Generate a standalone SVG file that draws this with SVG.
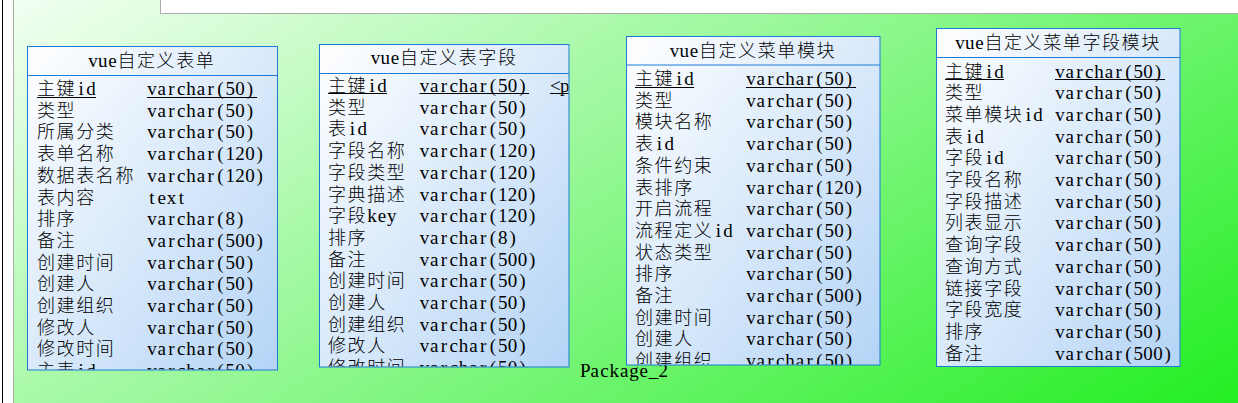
<svg xmlns="http://www.w3.org/2000/svg" width="1238" height="403" viewBox="0 0 1238 403">
<style>
.t{font-family:"Liberation Serif","Times New Roman",serif;font-size:19px;fill:#000}
.c{font-family:"Noto Sans CJK SC","Noto Sans CJK JP",sans-serif;font-size:18px;letter-spacing:1.6px;font-weight:300;fill:#000}
.tb{fill:url(#tg);stroke:#1c7cd5;stroke-width:1}
.hl{stroke:#1c7cd5;stroke-width:1}
.ul{stroke:#000;stroke-width:1}
</style>
<defs>
<linearGradient id="pg" gradientUnits="userSpaceOnUse" x1="14" y1="13" x2="520" y2="842">
<stop offset="0" stop-color="#f0fff0"/>
<stop offset="1" stop-color="#22ee22"/>
</linearGradient>
<linearGradient id="tg" x1="0" y1="0" x2="1" y2="1">
<stop offset="0" stop-color="#ffffff"/>
<stop offset="1" stop-color="#b4d4f6"/>
</linearGradient>
<clipPath id="c1"><rect x="28" y="76" width="249" height="293.5"/></clipPath>
<clipPath id="c2"><rect x="320" y="74" width="248.5" height="292.5"/></clipPath>
<clipPath id="c3"><rect x="627" y="66" width="253" height="298.5"/></clipPath>
<clipPath id="c4"><rect x="937" y="58" width="243" height="308"/></clipPath>
</defs>
<rect x="0" y="0" width="1238" height="403" fill="#ffffff"/>
<g id="package_2">
<line x1="2.5" y1="0" x2="2.5" y2="403" stroke="#000" stroke-width="1"/>
<path d="M13.5,-2 L160.5,-2 L160.5,13.5 L1240,13.5 L1240,405 L13.5,405 Z" fill="url(#pg)" stroke="#aaaaaa" stroke-width="1"/>
<text class="t" transform="translate(580,376.5)" x="0 10.5 20.3 29.55 39.9 49.15 59.5 68.75 78.55" y="0">Package_2</text>
</g>

<g id="vue_form">
<rect class="tb" x="27.5" y="46.5" width="250" height="323.5"/>
<line class="hl" x1="27.5" y1="75.5" x2="277.5" y2="75.5"/>
<text class="t" transform="translate(88,66.5)"><tspan x="0.15 9.95 20.3" y="0">vue</tspan><tspan class="c" x="29.4">自定义表单</tspan></text>
<g clip-path="url(#c1)">
<text class="t" transform="translate(37,95)"><tspan class="c" x="0" y="0">主键</tspan><tspan x="41.45 49.15">id</tspan></text>
<text class="t" transform="translate(147,95)" x="0.15 10.5 21.35 30.1 39.35 49.7 60.55 70.35 78.55 88.35 99.75" y="0">varchar(50)</text>
<line class="ul" x1="37" y1="97.5" x2="96" y2="97.5"/><line class="ul" x1="147" y1="97.5" x2="257" y2="97.5"/>
<text class="c" x="37" y="116.7">类型</text><text class="t" transform="translate(147,116.7)" x="0.15 10.5 21.35 30.1 39.35 49.7 60.55 70.35 78.55 88.35 99.75" y="0">varchar(50)</text>
<text class="c" x="37" y="138.4">所属分类</text><text class="t" transform="translate(147,138.4)" x="0.15 10.5 21.35 30.1 39.35 49.7 60.55 70.35 78.55 88.35 99.75" y="0">varchar(50)</text>
<text class="c" x="37" y="160.1">表单名称</text><text class="t" transform="translate(147,160.1)" x="0.15 10.5 21.35 30.1 39.35 49.7 60.55 70.35 78.55 88.35 98.15 109.55" y="0">varchar(120)</text>
<text class="c" x="37" y="181.8">数据表名称</text><text class="t" transform="translate(147,181.8)" x="0.15 10.5 21.35 30.1 39.35 49.7 60.55 70.35 78.55 88.35 98.15 109.55" y="0">varchar(120)</text>
<text class="c" x="37" y="203.5">表内容</text><text class="t" transform="translate(147,203.5)" x="2.25 10.5 19.75 31.65" y="0">text</text>
<text class="c" x="37" y="225.2">排序</text><text class="t" transform="translate(147,225.2)" x="0.15 10.5 21.35 30.1 39.35 49.7 60.55 70.35 78.55 89.95" y="0">varchar(8)</text>
<text class="c" x="37" y="246.9">备注</text><text class="t" transform="translate(147,246.9)" x="0.15 10.5 21.35 30.1 39.35 49.7 60.55 70.35 78.55 88.35 98.15 109.55" y="0">varchar(500)</text>
<text class="c" x="37" y="268.6">创建时间</text><text class="t" transform="translate(147,268.6)" x="0.15 10.5 21.35 30.1 39.35 49.7 60.55 70.35 78.55 88.35 99.75" y="0">varchar(50)</text>
<text class="c" x="37" y="290.3">创建人</text><text class="t" transform="translate(147,290.3)" x="0.15 10.5 21.35 30.1 39.35 49.7 60.55 70.35 78.55 88.35 99.75" y="0">varchar(50)</text>
<text class="c" x="37" y="312">创建组织</text><text class="t" transform="translate(147,312)" x="0.15 10.5 21.35 30.1 39.35 49.7 60.55 70.35 78.55 88.35 99.75" y="0">varchar(50)</text>
<text class="c" x="37" y="333.7">修改人</text><text class="t" transform="translate(147,333.7)" x="0.15 10.5 21.35 30.1 39.35 49.7 60.55 70.35 78.55 88.35 99.75" y="0">varchar(50)</text>
<text class="c" x="37" y="355.4">修改时间</text><text class="t" transform="translate(147,355.4)" x="0.15 10.5 21.35 30.1 39.35 49.7 60.55 70.35 78.55 88.35 99.75" y="0">varchar(50)</text>
<text class="t" transform="translate(37,377.1)"><tspan class="c" x="0" y="0">主表</tspan><tspan x="41.45 49.15">id</tspan></text>
<text class="t" transform="translate(147,377.1)" x="0.15 10.5 21.35 30.1 39.35 49.7 60.55 70.35 78.55 88.35 99.75" y="0">varchar(50)</text>
</g>
</g>

<g id="vue_table_field">
<rect class="tb" x="319.5" y="44.5" width="249.5" height="322.5"/>
<line class="hl" x1="319.5" y1="73.5" x2="569" y2="73.5"/>
<text class="t" transform="translate(370.5,63.5)"><tspan x="0.15 9.95 20.3" y="0">vue</tspan><tspan class="c" x="29.4">自定义表字段</tspan></text>
<g clip-path="url(#c2)">
<text class="t" transform="translate(328,92)"><tspan class="c" x="0" y="0">主键</tspan><tspan x="41.45 49.15">id</tspan></text>
<text class="t" transform="translate(419.5,92)" x="0.15 10.5 21.35 30.1 39.35 49.7 60.55 70.35 78.55 88.35 99.75" y="0">varchar(50)</text>
<text class="t" transform="translate(550,92)" x="0 9.95 19.75 29.4" y="0">&lt;pk&gt;</text>
<line class="ul" x1="328" y1="93.5" x2="387" y2="93.5"/><line class="ul" x1="419.5" y1="93.5" x2="529" y2="93.5"/><line class="ul" x1="550" y1="93.5" x2="590" y2="93.5"/>
<text class="c" x="328" y="113.7">类型</text><text class="t" transform="translate(419.5,113.7)" x="0.15 10.5 21.35 30.1 39.35 49.7 60.55 70.35 78.55 88.35 99.75" y="0">varchar(50)</text>
<text class="t" transform="translate(328,135.4)"><tspan class="c" x="0" y="0">表</tspan><tspan x="21.85 29.55">id</tspan></text>
<text class="t" transform="translate(419.5,135.4)" x="0.15 10.5 21.35 30.1 39.35 49.7 60.55 70.35 78.55 88.35 99.75" y="0">varchar(50)</text>
<text class="c" x="328" y="157.1">字段名称</text><text class="t" transform="translate(419.5,157.1)" x="0.15 10.5 21.35 30.1 39.35 49.7 60.55 70.35 78.55 88.35 98.15 109.55" y="0">varchar(120)</text>
<text class="c" x="328" y="178.8">字段类型</text><text class="t" transform="translate(419.5,178.8)" x="0.15 10.5 21.35 30.1 39.35 49.7 60.55 70.35 78.55 88.35 98.15 109.55" y="0">varchar(120)</text>
<text class="c" x="328" y="200.5">字典描述</text><text class="t" transform="translate(419.5,200.5)" x="0.15 10.5 21.35 30.1 39.35 49.7 60.55 70.35 78.55 88.35 98.15 109.55" y="0">varchar(120)</text>
<text class="t" transform="translate(328,222.2)"><tspan class="c" x="0" y="0">字段</tspan><tspan x="39.35 49.7 58.95">key</tspan></text>
<text class="t" transform="translate(419.5,222.2)" x="0.15 10.5 21.35 30.1 39.35 49.7 60.55 70.35 78.55 88.35 98.15 109.55" y="0">varchar(120)</text>
<text class="c" x="328" y="243.9">排序</text><text class="t" transform="translate(419.5,243.9)" x="0.15 10.5 21.35 30.1 39.35 49.7 60.55 70.35 78.55 89.95" y="0">varchar(8)</text>
<text class="c" x="328" y="265.6">备注</text><text class="t" transform="translate(419.5,265.6)" x="0.15 10.5 21.35 30.1 39.35 49.7 60.55 70.35 78.55 88.35 98.15 109.55" y="0">varchar(500)</text>
<text class="c" x="328" y="287.3">创建时间</text><text class="t" transform="translate(419.5,287.3)" x="0.15 10.5 21.35 30.1 39.35 49.7 60.55 70.35 78.55 88.35 99.75" y="0">varchar(50)</text>
<text class="c" x="328" y="309">创建人</text><text class="t" transform="translate(419.5,309)" x="0.15 10.5 21.35 30.1 39.35 49.7 60.55 70.35 78.55 88.35 99.75" y="0">varchar(50)</text>
<text class="c" x="328" y="330.7">创建组织</text><text class="t" transform="translate(419.5,330.7)" x="0.15 10.5 21.35 30.1 39.35 49.7 60.55 70.35 78.55 88.35 99.75" y="0">varchar(50)</text>
<text class="c" x="328" y="352.4">修改人</text><text class="t" transform="translate(419.5,352.4)" x="0.15 10.5 21.35 30.1 39.35 49.7 60.55 70.35 78.55 88.35 99.75" y="0">varchar(50)</text>
<text class="c" x="328" y="374.1">修改时间</text><text class="t" transform="translate(419.5,374.1)" x="0.15 10.5 21.35 30.1 39.35 49.7 60.55 70.35 78.55 88.35 99.75" y="0">varchar(50)</text>
</g>
</g>

<g id="vue_menu_module">
<rect class="tb" x="626.5" y="36.5" width="253.5" height="328.5"/>
<line class="hl" x1="626.5" y1="65" x2="880" y2="65"/>
<text class="t" transform="translate(669.5,56.5)"><tspan x="0.15 9.95 20.3" y="0">vue</tspan><tspan class="c" x="29.4">自定义菜单模块</tspan></text>
<g clip-path="url(#c3)">
<text class="t" transform="translate(635,85)"><tspan class="c" x="0" y="0">主键</tspan><tspan x="41.45 49.15">id</tspan></text>
<text class="t" transform="translate(746,85)" x="0.15 10.5 21.35 30.1 39.35 49.7 60.55 70.35 78.55 88.35 99.75" y="0">varchar(50)</text>
<line class="ul" x1="635" y1="87.5" x2="694" y2="87.5"/><line class="ul" x1="746" y1="87.5" x2="856" y2="87.5"/>
<text class="c" x="635" y="106.7">类型</text><text class="t" transform="translate(746,106.7)" x="0.15 10.5 21.35 30.1 39.35 49.7 60.55 70.35 78.55 88.35 99.75" y="0">varchar(50)</text>
<text class="c" x="635" y="128.4">模块名称</text><text class="t" transform="translate(746,128.4)" x="0.15 10.5 21.35 30.1 39.35 49.7 60.55 70.35 78.55 88.35 99.75" y="0">varchar(50)</text>
<text class="t" transform="translate(635,150.1)"><tspan class="c" x="0" y="0">表</tspan><tspan x="21.85 29.55">id</tspan></text>
<text class="t" transform="translate(746,150.1)" x="0.15 10.5 21.35 30.1 39.35 49.7 60.55 70.35 78.55 88.35 99.75" y="0">varchar(50)</text>
<text class="c" x="635" y="171.8">条件约束</text><text class="t" transform="translate(746,171.8)" x="0.15 10.5 21.35 30.1 39.35 49.7 60.55 70.35 78.55 88.35 99.75" y="0">varchar(50)</text>
<text class="c" x="635" y="193.5">表排序</text><text class="t" transform="translate(746,193.5)" x="0.15 10.5 21.35 30.1 39.35 49.7 60.55 70.35 78.55 88.35 98.15 109.55" y="0">varchar(120)</text>
<text class="c" x="635" y="215.2">开启流程</text><text class="t" transform="translate(746,215.2)" x="0.15 10.5 21.35 30.1 39.35 49.7 60.55 70.35 78.55 88.35 99.75" y="0">varchar(50)</text>
<text class="t" transform="translate(635,236.9)"><tspan class="c" x="0" y="0">流程定义</tspan><tspan x="80.65 88.35">id</tspan></text>
<text class="t" transform="translate(746,236.9)" x="0.15 10.5 21.35 30.1 39.35 49.7 60.55 70.35 78.55 88.35 99.75" y="0">varchar(50)</text>
<text class="c" x="635" y="258.6">状态类型</text><text class="t" transform="translate(746,258.6)" x="0.15 10.5 21.35 30.1 39.35 49.7 60.55 70.35 78.55 88.35 99.75" y="0">varchar(50)</text>
<text class="c" x="635" y="280.3">排序</text><text class="t" transform="translate(746,280.3)" x="0.15 10.5 21.35 30.1 39.35 49.7 60.55 70.35 78.55 88.35 99.75" y="0">varchar(50)</text>
<text class="c" x="635" y="302">备注</text><text class="t" transform="translate(746,302)" x="0.15 10.5 21.35 30.1 39.35 49.7 60.55 70.35 78.55 88.35 98.15 109.55" y="0">varchar(500)</text>
<text class="c" x="635" y="323.7">创建时间</text><text class="t" transform="translate(746,323.7)" x="0.15 10.5 21.35 30.1 39.35 49.7 60.55 70.35 78.55 88.35 99.75" y="0">varchar(50)</text>
<text class="c" x="635" y="345.4">创建人</text><text class="t" transform="translate(746,345.4)" x="0.15 10.5 21.35 30.1 39.35 49.7 60.55 70.35 78.55 88.35 99.75" y="0">varchar(50)</text>
<text class="c" x="635" y="367.1">创建组织</text><text class="t" transform="translate(746,367.1)" x="0.15 10.5 21.35 30.1 39.35 49.7 60.55 70.35 78.55 88.35 99.75" y="0">varchar(50)</text>
</g>
</g>

<g id="vue_menu_field_module">
<rect class="tb" x="936.5" y="28.5" width="243.5" height="338"/>
<line class="hl" x1="936.5" y1="57.5" x2="1180" y2="57.5"/>
<text class="t" transform="translate(955,49)"><tspan x="0.15 9.95 20.3" y="0">vue</tspan><tspan class="c" x="29.4">自定义菜单字段模块</tspan></text>
<g clip-path="url(#c4)">
<text class="t" transform="translate(945,77.5)"><tspan class="c" x="0" y="0">主键</tspan><tspan x="41.45 49.15">id</tspan></text>
<text class="t" transform="translate(1055,77.5)" x="0.15 10.5 21.35 30.1 39.35 49.7 60.55 70.35 78.55 88.35 99.75" y="0">varchar(50)</text>
<line class="ul" x1="945" y1="79.5" x2="1004" y2="79.5"/><line class="ul" x1="1055" y1="79.5" x2="1165" y2="79.5"/>
<text class="c" x="945" y="99.2">类型</text><text class="t" transform="translate(1055,99.2)" x="0.15 10.5 21.35 30.1 39.35 49.7 60.55 70.35 78.55 88.35 99.75" y="0">varchar(50)</text>
<text class="t" transform="translate(945,120.9)"><tspan class="c" x="0" y="0">菜单模块</tspan><tspan x="80.65 88.35">id</tspan></text>
<text class="t" transform="translate(1055,120.9)" x="0.15 10.5 21.35 30.1 39.35 49.7 60.55 70.35 78.55 88.35 99.75" y="0">varchar(50)</text>
<text class="t" transform="translate(945,142.6)"><tspan class="c" x="0" y="0">表</tspan><tspan x="21.85 29.55">id</tspan></text>
<text class="t" transform="translate(1055,142.6)" x="0.15 10.5 21.35 30.1 39.35 49.7 60.55 70.35 78.55 88.35 99.75" y="0">varchar(50)</text>
<text class="t" transform="translate(945,164.3)"><tspan class="c" x="0" y="0">字段</tspan><tspan x="41.45 49.15">id</tspan></text>
<text class="t" transform="translate(1055,164.3)" x="0.15 10.5 21.35 30.1 39.35 49.7 60.55 70.35 78.55 88.35 99.75" y="0">varchar(50)</text>
<text class="c" x="945" y="186">字段名称</text><text class="t" transform="translate(1055,186)" x="0.15 10.5 21.35 30.1 39.35 49.7 60.55 70.35 78.55 88.35 99.75" y="0">varchar(50)</text>
<text class="c" x="945" y="207.7">字段描述</text><text class="t" transform="translate(1055,207.7)" x="0.15 10.5 21.35 30.1 39.35 49.7 60.55 70.35 78.55 88.35 99.75" y="0">varchar(50)</text>
<text class="c" x="945" y="229.4">列表显示</text><text class="t" transform="translate(1055,229.4)" x="0.15 10.5 21.35 30.1 39.35 49.7 60.55 70.35 78.55 88.35 99.75" y="0">varchar(50)</text>
<text class="c" x="945" y="251.1">查询字段</text><text class="t" transform="translate(1055,251.1)" x="0.15 10.5 21.35 30.1 39.35 49.7 60.55 70.35 78.55 88.35 99.75" y="0">varchar(50)</text>
<text class="c" x="945" y="272.8">查询方式</text><text class="t" transform="translate(1055,272.8)" x="0.15 10.5 21.35 30.1 39.35 49.7 60.55 70.35 78.55 88.35 99.75" y="0">varchar(50)</text>
<text class="c" x="945" y="294.5">链接字段</text><text class="t" transform="translate(1055,294.5)" x="0.15 10.5 21.35 30.1 39.35 49.7 60.55 70.35 78.55 88.35 99.75" y="0">varchar(50)</text>
<text class="c" x="945" y="316.2">字段宽度</text><text class="t" transform="translate(1055,316.2)" x="0.15 10.5 21.35 30.1 39.35 49.7 60.55 70.35 78.55 88.35 99.75" y="0">varchar(50)</text>
<text class="c" x="945" y="337.9">排序</text><text class="t" transform="translate(1055,337.9)" x="0.15 10.5 21.35 30.1 39.35 49.7 60.55 70.35 78.55 88.35 99.75" y="0">varchar(50)</text>
<text class="c" x="945" y="359.6">备注</text><text class="t" transform="translate(1055,359.6)" x="0.15 10.5 21.35 30.1 39.35 49.7 60.55 70.35 78.55 88.35 98.15 109.55" y="0">varchar(500)</text>
</g>
</g>

<g id="connectors"></g>
</svg>
